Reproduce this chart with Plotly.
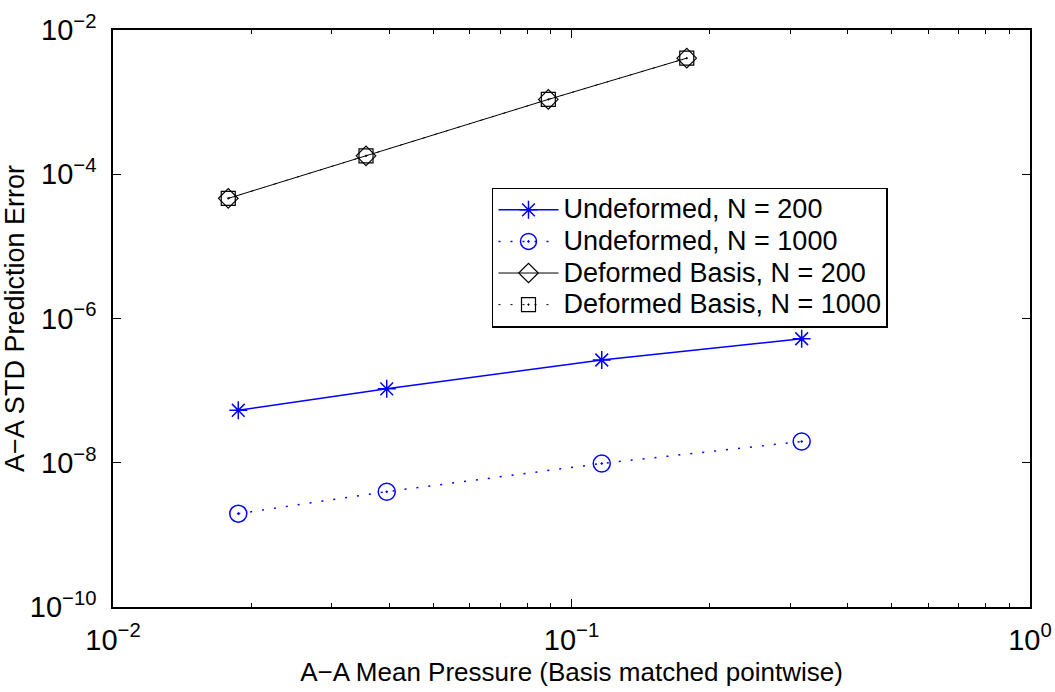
import plotly.graph_objects as go

# Mean pressure (x) and STD prediction error (y) for each basis / sample size
x_undeformed = [0.01876, 0.03954, 0.1164, 0.3177]
y_undef_200 = [5.34e-8, 1.06e-7, 2.66e-7, 5.24e-7]
y_undef_1000 = [1.97e-9, 3.97e-9, 9.78e-9, 1.97e-8]

x_deformed = [0.01784, 0.03563, 0.08901, 0.1784]
y_def_200 = [4.63e-5, 1.80e-4, 1.09e-3, 4.07e-3]
y_def_1000 = [4.63e-5, 1.80e-4, 1.09e-3, 4.07e-3]

series_names = [
    "Undeformed, N = 200",
    "Undeformed, N = 1000",
    "Deformed Basis, N = 200",
    "Deformed Basis, N = 1000",
]

x_tick_vals = [1e-2, 1e-1, 1e0]
x_tick_text = ["10<sup>−2</sup>", "10<sup>−1</sup>", "10<sup>0</sup>"]
y_tick_vals = [1e-10, 1e-8, 1e-6, 1e-4, 1e-2]
y_tick_text = ["10<sup>−10</sup>", "10<sup>−8</sup>", "10<sup>−6</sup>",
               "10<sup>−4</sup>", "10<sup>−2</sup>"]
x_minor_vals = [m * 10.0 ** e for e in (-2, -1) for m in range(2, 10)]

BLUE = "rgb(0,0,255)"
FONT = "Liberation Sans, Arial, Helvetica, sans-serif"
DOTS = "2px,10px"
LEGEND_TEXT_PX = 27


def legend_label(text):
    # larger glyphs than the legend's row font, keeping the rows compact
    return f'<span style="font-size:{LEGEND_TEXT_PX}px">{text}</span>'


fig = go.Figure()

fig.add_trace(go.Scatter(
    x=x_undeformed, y=y_undef_200, name=legend_label(series_names[0]),
    mode="lines+markers",
    line=dict(color=BLUE, width=1.5),
    marker=dict(symbol="asterisk-open", size=15, color=BLUE,
                line=dict(color=BLUE, width=1.5)),
))
fig.add_trace(go.Scatter(
    x=x_undeformed, y=y_undef_1000, name=legend_label(series_names[1]),
    mode="lines+markers",
    line=dict(color=BLUE, width=1.5, dash=DOTS),
    marker=dict(symbol="circle-open-dot", size=17, color=BLUE,
                line=dict(color=BLUE, width=1.5)),
))
fig.add_trace(go.Scatter(
    x=x_deformed, y=y_def_200, name=legend_label(series_names[2]),
    mode="lines+markers",
    line=dict(color="black", width=1),
    marker=dict(symbol="diamond-open", size=15, color="black",
                line=dict(color="black", width=1.2)),
))
fig.add_trace(go.Scatter(
    x=x_deformed, y=y_def_1000, name=legend_label(series_names[3]),
    mode="lines+markers",
    line=dict(color="black", width=1, dash=DOTS),
    marker=dict(symbol="square-open-dot", size=14, color="black",
                line=dict(color="black", width=1.2)),
))

axis_common = dict(
    type="log",
    automargin=False,
    showgrid=False,
    zeroline=False,
    showline=True,
    linecolor="black",
    linewidth=1.5,
    mirror="ticks",
    ticks="inside",
    ticklen=8,
    tickwidth=1,
    tickcolor="black",
    tickfont=dict(family=FONT, size=29, color="black"),
)

fig.update_xaxes(
    **axis_common,
    range=[-2, 0],
    tickmode="array", tickvals=x_tick_vals, ticktext=x_tick_text,
    ticklabelstandoff=6,
    minor=dict(tickmode="array", tickvals=x_minor_vals, ticks="inside",
               ticklen=4, tickcolor="black", tickwidth=1, showgrid=False),
    title=dict(text="A−A Mean Pressure (Basis matched pointwise)",
               font=dict(family=FONT, size=26, color="black"), standoff=8),
)
fig.update_yaxes(
    **axis_common,
    range=[-10, -2],
    tickmode="array", tickvals=y_tick_vals, ticktext=y_tick_text,
    ticklabelstandoff=9,
    title=dict(text="A−A STD Prediction Error",
               font=dict(family=FONT, size=27, color="black"), standoff=0),
)

fig.update_layout(
    width=1055,
    height=692,
    margin=dict(l=113, r=25, t=30, b=85, autoexpand=False),
    paper_bgcolor="white",
    plot_bgcolor="white",
    font=dict(family=FONT, color="black"),
    legend=dict(
        x=0.4133, y=0.727, xanchor="left", yanchor="top",
        bgcolor="white", bordercolor="black", borderwidth=1.5,
        font=dict(family=FONT, size=22, color="black"),
        itemwidth=60,
        tracegroupgap=0,
    ),
)

fig.write_html("out.html")
